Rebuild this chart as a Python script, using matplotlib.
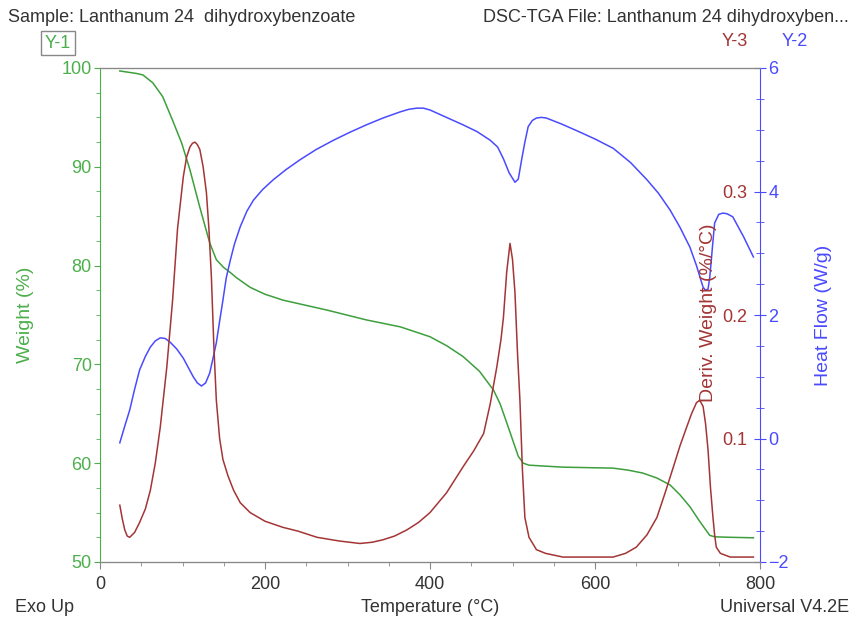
import matplotlib.pyplot as plt
from matplotlib.ticker import MultipleLocator

plt.rcParams['font.family'] = ['Liberation Sans', 'DejaVu Sans']

# Weight (%) vs temperature
temp_w = [24, 36, 44, 52, 64, 76, 88, 99, 109, 121, 133, 141, 150, 158, 165, 182, 200, 222,
          275, 323, 364, 400, 420, 440, 460, 477, 485, 493, 500, 507, 513, 520, 561, 622, 640,
          658, 675, 691, 703, 715, 727, 739, 745, 764, 792]
weight = [99.7, 99.55, 99.45, 99.3, 98.5, 97.1, 94.7, 92.4, 89.7, 85.9, 82.3, 80.6, 79.8,
          79.3, 78.8, 77.8, 77.1, 76.5, 75.5, 74.5, 73.8, 72.8, 71.9, 70.8, 69.3, 67.4, 66.0,
          64.1, 62.4, 60.7, 60.0, 59.8, 59.6, 59.5, 59.3, 59.0, 58.5, 57.8, 56.8, 55.6, 54.1,
          52.7, 52.55, 52.5, 52.45]

# Heat flow (W/g)
temp_h = [24, 30, 36, 42, 48, 55, 61, 67, 73, 79, 85, 93, 101, 107, 113, 118, 123, 128, 133,
          137, 141, 145, 149, 153, 158, 163, 170, 178, 186, 197, 210, 225, 242, 262, 283, 303,
          323, 343, 364, 374, 384, 392, 400, 420, 440, 457, 473, 482, 489, 496, 503, 507, 511,
          515, 519, 524, 529, 535, 541, 560, 582, 600, 622, 643, 663, 677, 691, 703, 715, 723,
          731, 734, 737, 739, 741, 743, 745, 750, 755, 760, 767, 780, 792]
heat = [-0.07, 0.2, 0.46, 0.8, 1.11, 1.33, 1.48, 1.58, 1.63, 1.62, 1.56, 1.45, 1.30, 1.15,
        1.00, 0.9, 0.85, 0.9, 1.06, 1.3, 1.55, 1.9, 2.24, 2.6, 2.89, 3.15, 3.43, 3.68, 3.86,
        4.03, 4.19, 4.35, 4.51, 4.68, 4.83, 4.96, 5.08, 5.19, 5.29, 5.33, 5.35, 5.35, 5.32,
        5.2, 5.08, 4.97, 4.83, 4.72, 4.53, 4.3, 4.15, 4.2, 4.51, 4.8, 5.05, 5.15, 5.19, 5.2,
        5.19, 5.09, 4.96, 4.85, 4.70, 4.47, 4.19, 3.97, 3.70, 3.42, 3.10, 2.8, 2.45, 2.4, 2.42,
        2.6, 2.89, 3.2, 3.49, 3.63, 3.65, 3.64, 3.59, 3.27, 2.94]

# Deriv. weight (%/°C)
temp_d = [24, 27, 30, 33, 36, 42, 48, 55, 61, 67, 73, 81, 88, 94, 101, 105, 109, 112, 115,
          118, 121, 125, 129, 132, 135, 138, 141, 145, 149, 155, 162, 170, 182, 200, 222, 240,
          263, 290, 315, 330, 343, 357, 372, 386, 400, 420, 440, 453, 465, 473, 481, 486, 489,
          493, 497, 500, 503, 506, 509, 512, 515, 520, 529, 540, 561, 622, 637, 650, 663, 675,
          685, 695, 703, 711, 717, 723, 727, 731, 734, 737, 740, 743, 745, 747, 752, 764, 792]
deriv = [0.046, 0.035, 0.026, 0.021, 0.020, 0.024, 0.032, 0.043, 0.058, 0.08, 0.109, 0.158,
         0.212, 0.27, 0.312, 0.328, 0.336, 0.339, 0.340, 0.338, 0.334, 0.32, 0.299, 0.27, 0.231,
         0.175, 0.131, 0.1, 0.083, 0.07, 0.058, 0.048, 0.040, 0.033, 0.028, 0.025, 0.020, 0.017,
         0.015, 0.016, 0.018, 0.021, 0.026, 0.032, 0.040, 0.056, 0.077, 0.09, 0.104, 0.128,
         0.158, 0.18, 0.198, 0.235, 0.258, 0.245, 0.218, 0.17, 0.131, 0.075, 0.036, 0.02, 0.010,
         0.007, 0.004, 0.004, 0.007, 0.012, 0.022, 0.036, 0.056, 0.077, 0.094, 0.109, 0.12,
         0.129, 0.131, 0.126, 0.112, 0.091, 0.06, 0.036, 0.022, 0.012, 0.007, 0.004, 0.004]

green = '#3c9f3c'
green_txt = '#4caf4c'
blue = '#4a4aff'
red = '#a33535'
gray = '#888888'
txt = '#333333'
fs = 13
fs_lab = 14

fig = plt.figure(figsize=(8.53, 6.22), dpi=100)
ax = fig.add_axes([100/853, 60/622, 660/853, 494/622])
ax_h = ax.twinx()
ax_d = ax.twinx()

ax.plot(temp_w, weight, color=green, lw=1.1)
ax_h.plot(temp_h, heat, color=blue, lw=1.1)
ax_d.plot(temp_d, deriv, color=red, lw=1.1)

ax.set_xlim(0, 800)
ax.set_ylim(50, 100)
ax_h.set_ylim(-2, 6)
ax_d.set_ylim(0, 0.4)

# x axis
ax.xaxis.set_major_locator(MultipleLocator(200))
ax.xaxis.set_minor_locator(MultipleLocator(50))
ax.tick_params(axis='x', which='major', length=5, color=gray, labelcolor=txt, labelsize=fs, pad=5)
ax.tick_params(axis='x', which='minor', length=3, color=gray)

# weight axis
ax.yaxis.set_major_locator(MultipleLocator(10))
ax.yaxis.set_minor_locator(MultipleLocator(2.5))
ax.tick_params(axis='y', which='major', length=4, color=green_txt, labelcolor=green_txt, labelsize=fs, pad=2)
ax.tick_params(axis='y', which='minor', length=3, color=green_txt)
ax.set_ylabel('Weight (%)', color=green_txt, fontsize=fs_lab)
ax.yaxis.set_label_coords(-0.1, 0.5)

# heat flow axis
ax_h.yaxis.set_major_locator(MultipleLocator(2))
ax_h.yaxis.set_minor_locator(MultipleLocator(0.5))
ax_h.tick_params(axis='y', which='major', direction='inout', length=8, color=blue, labelcolor=blue, labelsize=fs, pad=2)
ax_h.tick_params(axis='y', which='minor', direction='inout', length=6, color=blue)
ax_h.set_ylabel('Heat Flow (W/g)', color=blue, fontsize=fs_lab, rotation=90)
ax_h.yaxis.set_label_coords(1.083, 0.5)

# deriv axis: labels inside the right spine
ax_d.set_yticks([0.1, 0.2, 0.3])
ax_d.tick_params(axis='y', which='both', length=0, labelcolor=red, labelsize=fs, pad=-9)
for lbl in ax_d.get_yticklabels():
    lbl.set_horizontalalignment('right')
ax_d.set_ylabel('Deriv. Weight (%/°C)', color=red, fontsize=fs_lab, rotation=90)
ax_d.yaxis.set_label_coords(0.909, 0.505)

for a in (ax, ax_h, ax_d):
    a.spines['top'].set_color(gray)
    a.spines['bottom'].set_color(gray)
ax.spines['left'].set_color(green_txt)
ax_h.spines['right'].set_color(blue)
ax_d.spines['right'].set_visible(False)
ax.spines['right'].set_visible(False)
ax_h.spines['left'].set_visible(False)
ax_d.spines['left'].set_visible(False)

# header and footer texts
fig.text(8/853, 1 - 17/622, 'Sample: Lanthanum 24  dihydroxybenzoate', color=txt, fontsize=fs, va='center')
fig.text(849/853, 1 - 17/622, 'DSC-TGA File: Lanthanum 24 dihydroxyben...', color=txt, fontsize=fs,
         va='center', ha='right')
fig.text(58/853, 1 - 43/622, 'Y-1', color=green_txt, fontsize=fs, va='center', ha='center',
         bbox=dict(boxstyle='square,pad=0.2', fc='white', ec=gray, lw=1))
fig.text(735/853, 1 - 42/622, 'Y-3', color=red, fontsize=fs, va='center', ha='center')
fig.text(795/853, 1 - 42/622, 'Y-2', color=blue, fontsize=fs, va='center', ha='center')
fig.text(45/853, 1 - 607/622, 'Exo Up', color=txt, fontsize=fs, va='center', ha='center')
fig.text(430/853, 1 - 607/622, 'Temperature (°C)', color=txt, fontsize=fs, va='center', ha='center')
fig.text(849/853, 1 - 607/622, 'Universal V4.2E', color=txt, fontsize=fs, va='center', ha='right')

fig.savefig('out.png', dpi=100)
